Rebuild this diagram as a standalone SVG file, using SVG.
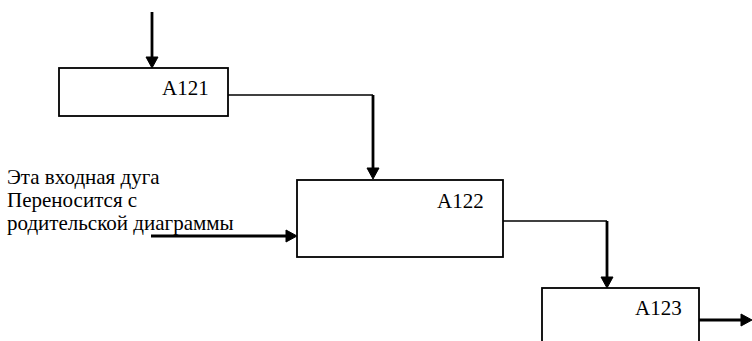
<svg xmlns="http://www.w3.org/2000/svg" width="752" height="341" viewBox="0 0 752 341">
  <defs>
    <!-- shared filled arrowhead, pointing right along +x -->
    <polygon id="head" points="-11,-6 0,0 -11,6" fill="#000"/>
  </defs>
  <rect width="752" height="341" fill="#fff"/>

  <!-- connectors -->
  <g id="connectors" fill="none" stroke="#000">
    <!-- control into A121 -->
    <line stroke-width="2.8" x1="152" y1="12" x2="152" y2="58"/>
    <use href="#head" transform="translate(152,68) rotate(90)"/>
    <!-- A121 output to A122 control -->
    <line stroke-width="1.6" x1="228" y1="95" x2="373" y2="95"/>
    <line stroke-width="2.8" x1="373" y1="95" x2="373" y2="169"/>
    <use href="#head" transform="translate(373,179) rotate(90)"/>
    <!-- boundary input to A122 -->
    <line stroke-width="2.8" x1="151" y1="236" x2="288" y2="236"/>
    <use href="#head" transform="translate(297,236)"/>
    <!-- A122 output to A123 -->
    <line stroke-width="1.6" x1="503" y1="221" x2="607" y2="221"/>
    <line stroke-width="2.8" x1="607" y1="221" x2="607" y2="278"/>
    <use href="#head" transform="translate(607,288) rotate(90)"/>
    <!-- A123 output -->
    <line stroke-width="2.8" x1="699" y1="320" x2="742" y2="320"/>
    <use href="#head" transform="translate(752,320)"/>
  </g>

  <g id="A121">
    <rect x="59" y="68" width="169" height="48" fill="#fff" stroke="#000" stroke-width="1.8"/>
    <text x="162" y="95" font-family="'Liberation Serif'" font-size="21" fill="#000">A121</text>
  </g>

  <g id="A122">
    <rect x="297" y="180" width="206" height="77" fill="#fff" stroke="#000" stroke-width="1.8"/>
    <text x="437" y="208" font-family="'Liberation Serif'" font-size="21" fill="#000">A122</text>
  </g>

  <g id="A123">
    <rect x="542" y="288" width="157" height="60" fill="#fff" stroke="#000" stroke-width="1.8"/>
    <text x="635" y="315" font-family="'Liberation Serif'" font-size="21" fill="#000">A123</text>
  </g>

  <g id="note">
    <text x="7" y="184" font-family="'Liberation Serif'" font-size="21" fill="#000">Эта входная дуга</text>
    <text x="7" y="207" font-family="'Liberation Serif'" font-size="21" fill="#000">Переносится с</text>
    <text x="7" y="230" font-family="'Liberation Serif'" font-size="21" fill="#000">родительской диаграммы</text>
  </g>
</svg>
